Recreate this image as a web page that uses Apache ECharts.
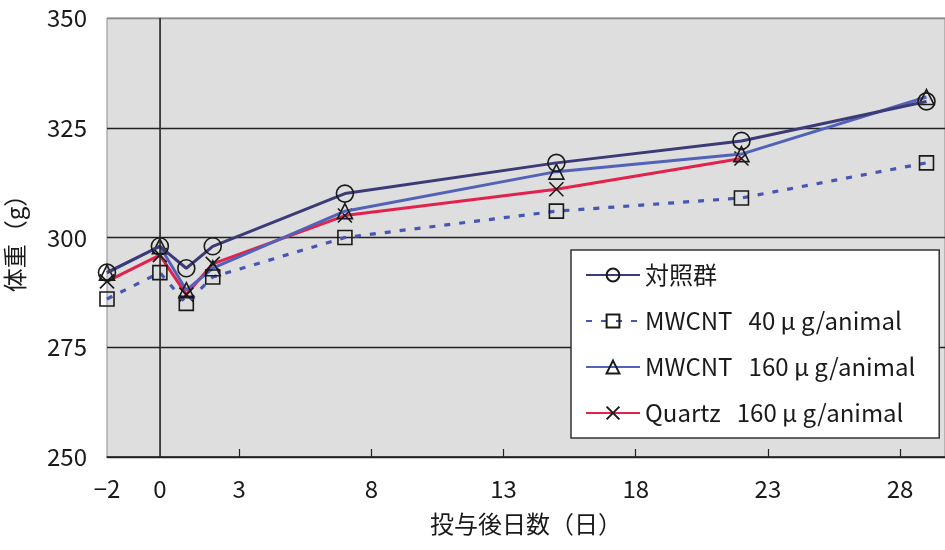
<!DOCTYPE html>
<html>
<head>
<meta charset="utf-8">
<script src="https://cdn.jsdelivr.net/npm/echarts@6/dist/echarts.min.js"></script>
<style>
  html, body { margin: 0; padding: 0; background: #fff; }
  #chart { width: 945px; height: 550px; }
</style>
</head>
<body>
<div id="chart"></div>
<script>
// 投与後日数
const days = [-2, 0, 1, 2, 7, 15, 22, 29];
const control = [292, 298, 293, 298, 310, 317, 322, 331];
const mwcnt40 = [286, 292, 285, 291, 300, 306, 309, 317];
const mwcnt160 = [292, 298, 288, 293, 306, 315, 319, 332];
const quartz = [290, 296, 287, 294, 305, 311, 318, null];

const xLabels = [-2, 0, 3, 8, 13, 18, 23, 28];
const xTicks = [3, 8, 13, 18, 23, 28];

const names = ['対照群', 'MWCNT   40 μ g/animal', 'MWCNT   160 μ g/animal', 'Quartz   160 μ g/animal'];

const font = '"Noto Sans CJK JP", "Noto Sans", sans-serif';

function pairs(vals) {
    return days.map(function (d, i) { return [d, vals[i]]; });
}

const markerStyle = {
    color: 'rgba(0,0,0,0)',
    borderColor: '#1a1a1a',
    borderWidth: 1.6
};

let chart = echarts.init(document.getElementById('chart'));
const option = {
    animation: false,
    textStyle: { fontFamily: font },
    grid: {
        left: 107,
        right: 0,
        top: 18,
        bottom: 93,
        outerBoundsMode: 'none',
        containLabel: false,
        show: true,
        backgroundColor: '#dddedd',
        borderColor: '#8a8a8a',
        borderWidth: 1
    },
    legend: {
        orient: 'vertical',
        left: 571,
        top: 250,
        backgroundColor: '#fff',
        borderColor: '#333',
        borderWidth: 1.5,
        padding: [13, 24, 13, 14],
        itemWidth: 54,
        itemHeight: 16,
        itemGap: 22,
        textStyle: { fontFamily: font, fontSize: 24, color: '#1a1a1a' },
        data: names
    },
    xAxis: {
        type: 'value',
        min: -2,
        max: 29.7,
        name: '投与後日数（日）',
        nameLocation: 'middle',
        nameGap: 55,
        nameTextStyle: { fontFamily: font, fontSize: 24, color: '#1a1a1a' },
        axisLine: { show: true, lineStyle: { color: '#222', width: 1.5 } },
        axisTick: { show: true, inside: true, length: 8, customValues: xTicks, lineStyle: { color: '#222', width: 1.2 } },
        axisLabel: { customValues: xLabels, margin: 20, fontSize: 24, color: '#1a1a1a', fontFamily: font,
            formatter: function (v) { return v < 0 ? '\u2212' + Math.abs(v) : String(v); } },
        splitLine: { show: false }
    },
    yAxis: {
        type: 'value',
        min: 250,
        max: 350,
        interval: 25,
        name: '体重（g）',
        nameLocation: 'middle',
        nameGap: 80,
        nameRotate: 90,
        nameTextStyle: { fontFamily: font, fontSize: 24, color: '#1a1a1a' },
        axisLine: { show: true, lineStyle: { color: '#8a8a8a', width: 1 } },
        axisTick: { show: false },
        axisLabel: { margin: 20, fontSize: 24, color: '#1a1a1a', fontFamily: font },
        splitLine: { show: true, lineStyle: { color: ['#222', '#222', '#222', '#222', '#8a8a8a'], width: 1.3 } }
    },
    series: [
        {
            name: names[0],
            type: 'line',
            data: pairs(control),
            symbol: 'circle',
            symbolSize: 17,
            lineStyle: { color: '#3d3a78', width: 3 },
            itemStyle: markerStyle,
            z: 4,
            markLine: {
                silent: true,
                symbol: 'none',
                label: { show: false },
                lineStyle: { color: '#222', width: 1.5, type: 'solid' },
                data: [{ xAxis: 0 }]
            }
        },
        {
            name: names[1],
            type: 'line',
            data: pairs(mwcnt40),
            symbol: 'rect',
            symbolSize: 14,
            lineStyle: { color: '#4656b4', width: 3.2, type: [6, 9] },
            itemStyle: markerStyle,
            z: 3
        },
        {
            name: names[2],
            type: 'line',
            data: pairs(mwcnt160),
            symbol: 'triangle',
            symbolSize: 15,
            lineStyle: { color: '#5262b8', width: 3 },
            itemStyle: markerStyle,
            z: 3
        },
        {
            name: names[3],
            type: 'line',
            data: pairs(quartz),
            symbol: 'path://M0,0L10,10M10,0L0,10',
            symbolSize: 14,
            connectNulls: false,
            lineStyle: { color: '#e4214c', width: 3 },
            itemStyle: markerStyle,
            z: 2
        }
    ]
};

chart.setOption(option);

window.addEventListener('resize', function () {
    chart.resize();
});
</script>
</body>
</html>
